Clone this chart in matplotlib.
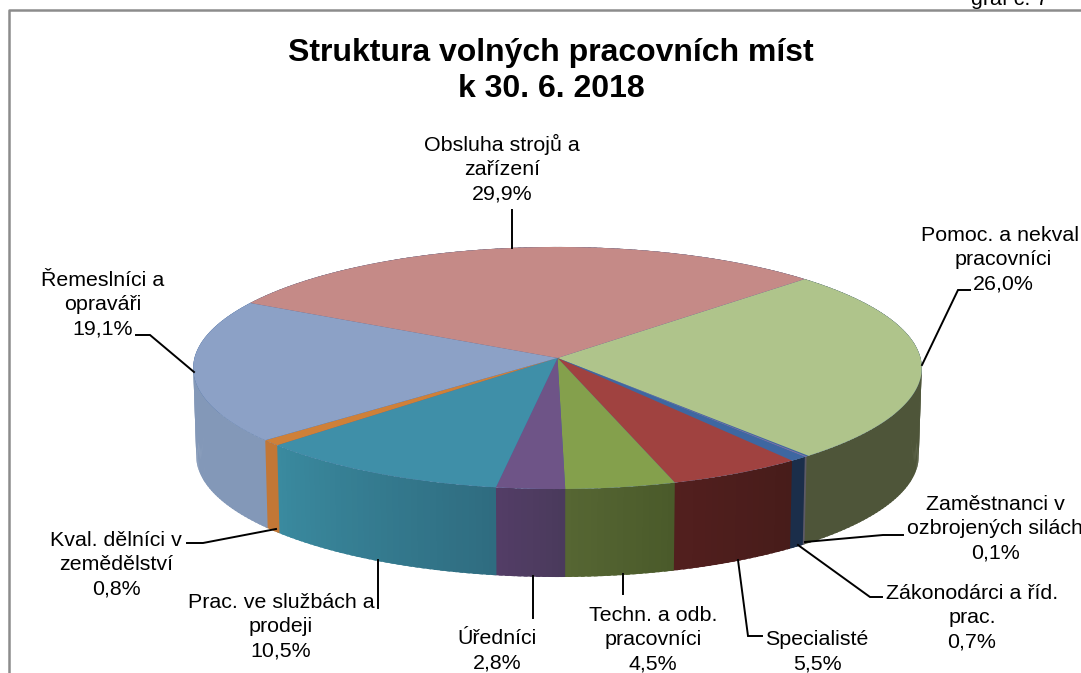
#!/usr/bin/env python3
"""Struktura volnych pracovnich mist - 3D pie drawn by hand, matplotlib has none."""

import numpy as np
import matplotlib
matplotlib.use('Agg')
import matplotlib.pyplot as plt
from matplotlib.colors import to_rgb

plt.rcParams['font.family'] = ['Liberation Sans', 'DejaVu Sans']

# Data, clockwise starting at the front edge of the green slice
categories = ['Zaměstnanci v\nozbrojených silách', 'Zákonodárci a říd.\nprac.', 'Specialisté',
              'Techn. a odb.\npracovníci', 'Úředníci', 'Prac. ve službách a\nprodeji',
              'Kval. dělníci v\nzemědělství', 'Řemeslníci a\nopraváři', 'Obsluha strojů a\nzařízení',
              'Pomoc. a nekval.\npracovníci']
values = [0.1, 0.7, 5.5, 4.5, 2.8, 10.5, 0.8, 19.1, 29.9, 26.0]

top_colors = ['#7f72a6', '#3e67a1', '#a04240', '#84a04c', '#6e5487',
              '#3f8fa8', '#cf8038', '#8ca1c6', '#c58a87', '#afc48b']
side_right = ['#5d5a66', '#1b2e4a', '#471c1a', '#4a5a2a', '#4a3a5c',
              '#2f6c80', '#c27736', '#8398b8', '#8a5f5d', '#4e5539']
side_left = ['#5d5a66', '#1b2e4a', '#521f1e', '#566633', '#533d66',
             '#3a8a9f', '#c27736', '#8398b8', '#8a5f5d', '#4e5539']

# label anchor (centre x, top y) and leader polyline, in pixels
label_pos = [(995, 495), (972, 584), (817, 630), (653, 606), (497, 629),
             (281, 593), (116, 531), (103, 271), (502, 134), (1003, 226)]
leaders = [[(805, 542), (883, 535), (903, 535)],
           [(798, 545), (870, 597), (882, 597)],
           [(738, 560), (748, 636), (762, 636)],
           [(622.5, 574), (622.5, 594)],
           [(533, 576), (533, 618)],
           [(378, 560), (378, 608)],
           [(276, 529), (203, 543), (187, 543)],
           [(194, 372), (150, 335), (136, 335)],
           [(512, 248), (512, 210)],
           [(922, 365), (958, 290), (970, 290)]]

START_DEG = 140.0
CX, CY = 557.5, 358.0
RX, RY = 363.0, 120.2
PERSP = 0.0826
DEPTH = 88.0
RX_BOTTOM = 360.0


def project(theta, cy=CY, rx=RX):
    """Circle point at clockwise angle from the back of the pie to pixels."""
    u = np.sin(theta)
    v = -np.cos(theta)
    s = 1.0 / (1.0 - PERSP * v)
    return CX + rx * u * s, cy + RY * v * s


def draw_pie(ax):
    edges = np.radians(START_DEG + np.concatenate([[0], np.cumsum(values)]) * 3.6)
    last = len(values) - 1

    # walls first, in thin strips so that they can shade from right to left.
    # every strip runs under the next one, otherwise the seams show as stripes
    for i in [last] + list(range(last)):
        n = max(2, int(np.degrees(edges[i + 1] - edges[i])) + 1)
        step = (edges[i + 1] - edges[i]) / n
        c0, c1 = np.array(to_rgb(side_right[i])), np.array(to_rgb(side_left[i]))
        for j in range(n):
            t = np.linspace(edges[i] + j * step, edges[i] + (j + 1) * step + 0.01, 6)
            x1, y1 = project(t)
            x2, y2 = project(t, CY + DEPTH, RX_BOTTOM)
            col = c0 + (c1 - c0) * (j + 0.5) / n
            ax.fill(np.r_[x1, x2[::-1]], np.r_[y1, y2[::-1]], color=col, lw=0, zorder=2)

    # top surface, a base disc stops the thin slices letting white through
    x, y = project(np.linspace(0, 2 * np.pi, 400))
    ax.fill(x, y, color=top_colors[1], lw=0, zorder=3)
    for i in [last] + list(range(last)):
        t = np.linspace(edges[i], edges[i + 1], 120)
        x, y = project(t)
        ax.fill(np.r_[CX, x], np.r_[CY, y], color=top_colors[i], lw=0, zorder=3)


def main():
    fig = plt.figure(figsize=(10.81, 6.73), dpi=100)
    ax = fig.add_axes([0, 0, 1, 1])
    ax.set_xlim(0, 1081)
    ax.set_ylim(673, 0)
    ax.axis('off')

    # frame of the embedded chart, cut off by the crop
    ax.plot([8.5, 8.5, 1081], [673, 10, 10], color='#8c8c8c', lw=1.8, zorder=1)
    ax.text(971, 5, 'graf č. 7', fontsize=15.4, color='black', va='baseline')

    ax.text(551, 53, 'Struktura volných pracovních míst', fontsize=23, fontweight='bold',
            ha='center', va='center')
    ax.text(551, 89, 'k 30. 6. 2018', fontsize=23, fontweight='bold', ha='center', va='center')

    draw_pie(ax)

    for line in leaders:
        xs, ys = zip(*line)
        ax.plot(xs, ys, color='black', lw=1.4, zorder=4, solid_joinstyle='miter')

    for name, val, (x, y) in zip(categories, values, label_pos):
        label = name + '\n' + f"{val:.1f}".replace('.', ',') + '%'
        ax.text(x, y, label, fontsize=15.4, ha='center', va='top', linespacing=1.34, zorder=5)

    fig.savefig('out.png', dpi=100)
    plt.close(fig)


if __name__ == "__main__":
    main()
